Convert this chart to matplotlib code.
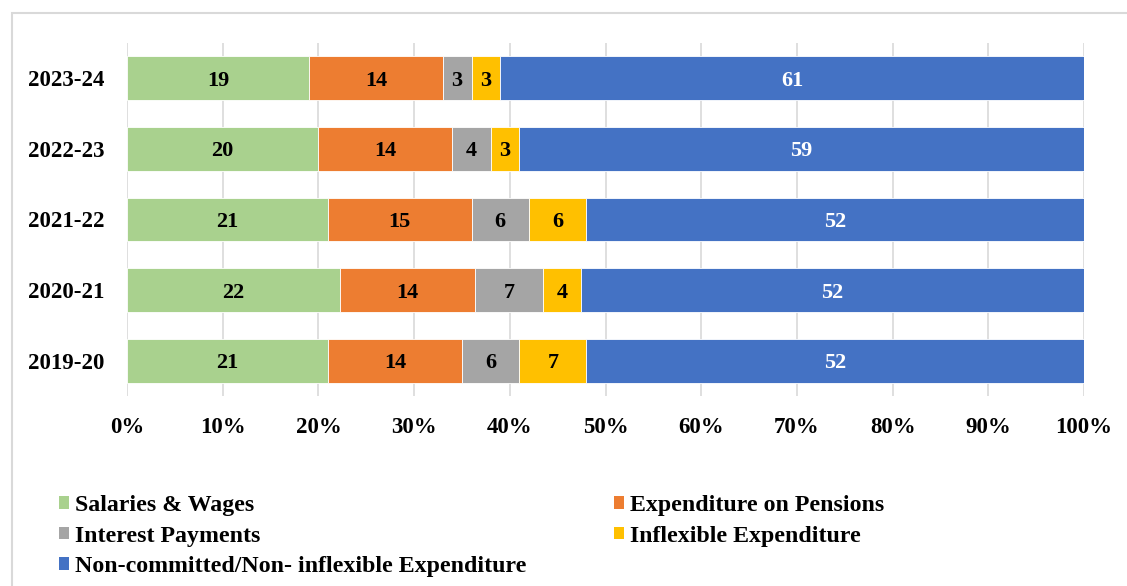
import numpy as np
import matplotlib.pyplot as plt
from matplotlib.patches import Rectangle, Patch

plt.rcParams['font.family'] = ['Liberation Serif', 'DejaVu Serif']
plt.rcParams['font.weight'] = 'bold'

years = ['2019-20', '2020-21', '2021-22', '2022-23', '2023-24']
salaries = [21, 22, 21, 20, 19]
pensions = [14, 14, 15, 14, 14]
interest = [6, 7, 6, 4, 3]
inflexible = [7, 4, 6, 3, 3]
non_committed = [52, 52, 52, 59, 61]

series = [
    ('Salaries & Wages', salaries, '#A9D18E', 'black'),
    ('Expenditure on Pensions', pensions, '#ED7D31', 'black'),
    ('Interest Payments', interest, '#A5A5A5', 'black'),
    ('Inflexible Expenditure', inflexible, '#FFC000', 'black'),
    ('Non-committed/Non- inflexible Expenditure', non_committed, '#4472C4', 'white'),
]

fig = plt.figure(figsize=(11.27, 5.86), dpi=100)
ax = fig.add_axes([127 / 1127, 1 - 396 / 586, 957 / 1127, 353 / 586])

# outer chart border (runs off the right and bottom edges)
fig.patches.append(Rectangle((12 / 1127, -0.2), 1.2, 1 - 13 / 586 + 0.2,
                             transform=fig.transFigure, fill=False,
                             edgecolor='#D9D9D9', linewidth=1.5))

totals = np.sum([s[1] for s in series], axis=0)
y = np.arange(len(years))
left = np.zeros(len(years))
handles = []
for name, vals, color, tcolor in series:
    share = np.array(vals) / totals * 100
    ax.barh(y, share, left=left, height=0.62, color=color,
            edgecolor='white', linewidth=0.6, zorder=3)
    for yi, (l, w, v) in enumerate(zip(left, share, vals)):
        ax.text(l + w / 2, yi, str(v), ha='center', va='center_baseline',
                color=tcolor, fontsize=16, fontweight='bold', zorder=4)
    left += share
    handles.append(Patch(facecolor=color, label=name))

ax.set_xlim(0, 100)
ax.set_ylim(-0.5, 4.5)
ax.set_xticks(np.arange(0, 101, 10))
ax.set_xticklabels([f'{t}%' for t in range(0, 101, 10)])
ax.set_yticks(y)
ax.set_yticklabels(years)
ax.tick_params(axis='x', length=0, pad=15, labelsize=16.5)
ax.tick_params(axis='y', length=0, pad=16, labelsize=16.5)
ax.grid(axis='x', color='#D9D9D9', linewidth=1.2, zorder=0)
for s in ax.spines.values():
    s.set_visible(False)

# row-wise legend order for a two column layout
order = [0, 2, 4, 1, 3]
leg = fig.legend([handles[i] for i in order], [handles[i].get_label() for i in order],
                 loc='upper left', bbox_to_anchor=(59 / 1127, 1 - 495 / 586),
                 ncol=2, frameon=False, fontsize=17.2, handlelength=0.42,
                 handleheight=0.42, handletextpad=0.25, columnspacing=3.65,
                 labelspacing=0.4, borderaxespad=0, borderpad=0)

fig.savefig('out.png', dpi=100)
